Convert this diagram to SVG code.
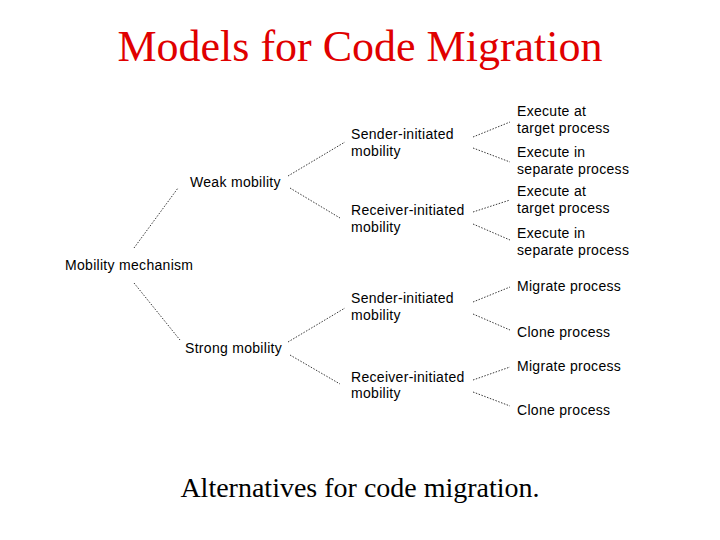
<svg xmlns="http://www.w3.org/2000/svg" width="720" height="540" viewBox="0 0 720 540">
<style>
.t{font-family:"Liberation Sans",Arial,sans-serif;font-size:14px;letter-spacing:0.3px;fill:#000}
.c line{stroke:#222;stroke-width:0.9;stroke-dasharray:1.5 1.5}
</style>
<rect width="720" height="540" fill="#fff"/>
<text x="360" y="61" text-anchor="middle" font-family="Liberation Serif,serif" font-size="44" fill="#e00000">Models for Code Migration</text>
<g class="c">
<line x1="134" y1="248" x2="178" y2="188"/>
<line x1="134" y1="283" x2="180" y2="340"/>
<line x1="288" y1="176" x2="345" y2="142"/>
<line x1="290" y1="188" x2="340" y2="218"/>
<line x1="288" y1="342" x2="345" y2="308"/>
<line x1="290" y1="355" x2="340" y2="384"/>
<line x1="473" y1="137" x2="510" y2="122"/>
<line x1="473" y1="148" x2="510" y2="162"/>
<line x1="473" y1="212" x2="510" y2="200"/>
<line x1="473" y1="224" x2="510" y2="240"/>
<line x1="473" y1="302" x2="510" y2="287"/>
<line x1="473" y1="314" x2="510" y2="330"/>
<line x1="473" y1="380" x2="510" y2="367"/>
<line x1="473" y1="392" x2="510" y2="406"/>
</g>
<g id="root"><text class="t" x="65" y="270">Mobility mechanism</text></g>
<g id="weak"><text class="t" x="190" y="187">Weak mobility</text></g>
<g id="strong"><text class="t" x="185" y="353">Strong mobility</text></g>
<g id="ws"><text class="t" x="351" y="139">Sender-initiated</text><text class="t" x="351" y="156">mobility</text></g>
<g id="wr"><text class="t" x="351" y="215">Receiver-initiated</text><text class="t" x="351" y="232">mobility</text></g>
<g id="ss"><text class="t" x="351" y="303">Sender-initiated</text><text class="t" x="351" y="320">mobility</text></g>
<g id="sr"><text class="t" x="351" y="382">Receiver-initiated</text><text class="t" x="351" y="398">mobility</text></g>
<g id="l1"><text class="t" x="517" y="116">Execute at</text><text class="t" x="517" y="133">target process</text></g>
<g id="l2"><text class="t" x="517" y="157">Execute in</text><text class="t" x="517" y="174">separate process</text></g>
<g id="l3"><text class="t" x="517" y="196">Execute at</text><text class="t" x="517" y="213">target process</text></g>
<g id="l4"><text class="t" x="517" y="238">Execute in</text><text class="t" x="517" y="255">separate process</text></g>
<g id="l5"><text class="t" x="517" y="291">Migrate process</text></g>
<g id="l6"><text class="t" x="517" y="337">Clone process</text></g>
<g id="l7"><text class="t" x="517" y="371">Migrate process</text></g>
<g id="l8"><text class="t" x="517" y="415">Clone process</text></g>
<text x="360" y="497" text-anchor="middle" font-family="Liberation Serif,serif" font-size="28" fill="#000">Alternatives for code migration.</text>
</svg>
